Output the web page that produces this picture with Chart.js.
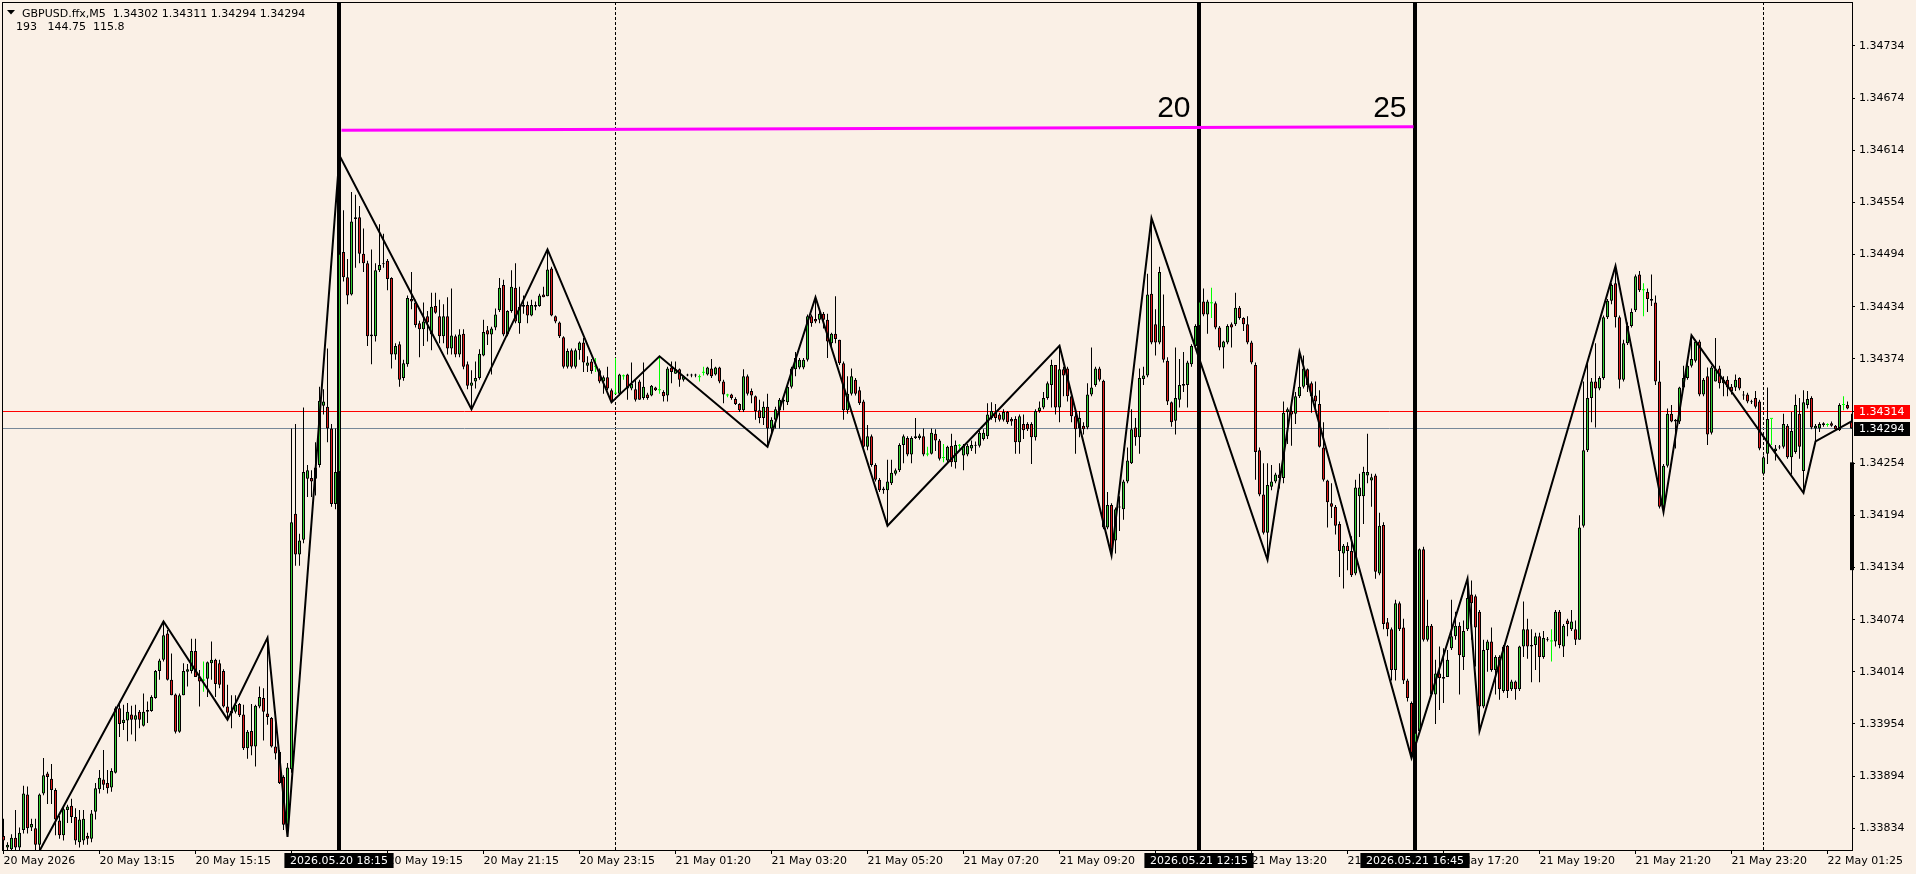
<!DOCTYPE html>
<html>
<head>
<meta charset="utf-8">
<title>GBPUSD.ffx,M5</title>
<script src="https://cdn.jsdelivr.net/npm/chart.js"></script>
<style>
    html, body { margin: 0; padding: 0; background: #faf0e6; }
    canvas { display: block; }
</style>
</head>
<body>
<canvas id="priceChart" width="1916" height="874"></canvas>
<script>
// GBPUSD M5 - velas

const symbolTitle = 'GBPUSD.ffx,M5  1.34302 1.34311 1.34294 1.34294';
const infoLine = '193   144.75  115.8';

const opens = [
    1.33825, 1.33812, 1.33810, 1.33823, 1.33812, 1.33832, 1.33873, 1.33835, 1.33834, 1.33815,
    1.33874, 1.33897, 1.33891, 1.33878, 1.33843, 1.33826, 1.33855, 1.33860, 1.33847, 1.33818,
    1.33820, 1.33825, 1.33822, 1.33853, 1.33879, 1.33890, 1.33886, 1.33881, 1.33898, 1.33972,
    1.33955, 1.33958, 1.33965, 1.33959, 1.33968, 1.33952, 1.33968, 1.33969, 1.33984, 1.34015,
    1.34028, 1.34058, 1.34005, 1.33988, 1.33945, 1.33987, 1.34014, 1.34015, 1.34038, 1.34008,
    1.34004, 1.34006, 1.34024, 1.34028, 1.34024, 1.34015, 1.33974, 1.33966, 1.33968, 1.33977,
    1.33965, 1.33926, 1.33946, 1.33928, 1.33974, 1.33984, 1.33966, 1.33961, 1.33928, 1.33922,
    1.33893, 1.33838, 1.33902, 1.34196, 1.34149, 1.34166, 1.34236, 1.34237, 1.34236, 1.34252,
    1.34320, 1.34319, 1.34294, 1.34207, 1.34244, 1.34497, 1.34468, 1.34448, 1.34535, 1.34537,
    1.34495, 1.34484, 1.34402, 1.34400, 1.34476, 1.34483, 1.34487, 1.34467, 1.34379, 1.34391,
    1.34352, 1.34368, 1.34443, 1.34439, 1.34415, 1.34408, 1.34423, 1.34402, 1.34435, 1.34423,
    1.34400, 1.34423, 1.34386, 1.34400, 1.34379, 1.34403, 1.34368, 1.34343, 1.34348, 1.34352,
    1.34378, 1.34407, 1.34402, 1.34410, 1.34430, 1.34459, 1.34402, 1.34429, 1.34456, 1.34415,
    1.34434, 1.34436, 1.34424, 1.34436, 1.34435, 1.34448, 1.34446, 1.34478, 1.34423, 1.34416,
    1.34399, 1.34365, 1.34384, 1.34365, 1.34384, 1.34393, 1.34366, 1.34371, 1.34365, 1.34361,
    1.34348, 1.34353, 1.34338, 1.34334, 1.34334, 1.34354, 1.34356, 1.34340, 1.34339, 1.34348,
    1.34329, 1.34333, 1.34332, 1.34341, 1.34338, 1.34336, 1.34332, 1.34364, 1.34357, 1.34362,
    1.34350, 1.34355, 1.34355, 1.34355, 1.34353, 1.34358, 1.34356, 1.34363, 1.34356, 1.34364,
    1.34348, 1.34332, 1.34333, 1.34328, 1.34322, 1.34315, 1.34354, 1.34337, 1.34331, 1.34315,
    1.34306, 1.34319, 1.34294, 1.34304, 1.34315, 1.34327, 1.34324, 1.34342, 1.34362, 1.34364,
    1.34364, 1.34373, 1.34423, 1.34420, 1.34419, 1.34426, 1.34419, 1.34392, 1.34403, 1.34396,
    1.34369, 1.34315, 1.34334, 1.34350, 1.34338, 1.34325, 1.34273, 1.34285, 1.34252, 1.34235,
    1.34225, 1.34223, 1.34231, 1.34242, 1.34246, 1.34275, 1.34283, 1.34264, 1.34285, 1.34283,
    1.34285, 1.34264, 1.34265, 1.34288, 1.34280, 1.34260, 1.34257, 1.34274, 1.34255, 1.34274,
    1.34263, 1.34264, 1.34271, 1.34274, 1.34274, 1.34282, 1.34285, 1.34306, 1.34312, 1.34310,
    1.34304, 1.34313, 1.34305, 1.34305, 1.34278, 1.34299, 1.34299, 1.34299, 1.34284, 1.34314,
    1.34318, 1.34329, 1.34344, 1.34367, 1.34318, 1.34362, 1.34363, 1.34331, 1.34308, 1.34294,
    1.34297, 1.34295, 1.34333, 1.34344, 1.34363, 1.34349, 1.34180, 1.34206, 1.34165, 1.34203,
    1.34201, 1.34233, 1.34254, 1.34295, 1.34284, 1.34351, 1.34355, 1.34449, 1.34414, 1.34393,
    1.34412, 1.34372, 1.34324, 1.34303, 1.34327, 1.34343, 1.34344, 1.34368, 1.34389, 1.34412,
    1.34440, 1.34425, 1.34438, 1.34438, 1.34410, 1.34387, 1.34393, 1.34414, 1.34414, 1.34433,
    1.34421, 1.34414, 1.34393, 1.34367, 1.34269, 1.34218, 1.34174, 1.34227, 1.34233, 1.34241,
    1.34237, 1.34313, 1.34314, 1.34311, 1.34331, 1.34342, 1.34362, 1.34346, 1.34332, 1.34322,
    1.34272, 1.34234, 1.34208, 1.34204, 1.34184, 1.34150, 1.34159, 1.34153, 1.34127, 1.34216,
    1.34216, 1.34240, 1.34234, 1.34240, 1.34127, 1.34183, 1.34071, 1.34063, 1.34016, 1.34093,
    1.34065, 1.34004, 1.33978, 1.33932, 1.33946, 1.34155, 1.34051, 1.34067, 1.33988, 1.34012,
    1.34008, 1.34008, 1.34041, 1.34055, 1.34067, 1.34031, 1.34063, 1.34103, 1.34101, 1.34083,
    1.33974, 1.34039, 1.34049, 1.34016, 1.34031, 1.33992, 1.34044, 1.33994, 1.34003, 1.33994,
    1.34043, 1.34063, 1.34045, 1.34045, 1.34055, 1.34031, 1.34052, 1.34049, 1.34049, 1.34083,
    1.34043, 1.34073, 1.34063, 1.34063, 1.34051, 1.34182, 1.34269, 1.34329, 1.34348, 1.34340,
    1.34352, 1.34422, 1.34441, 1.34461, 1.34422, 1.34350, 1.34392, 1.34412, 1.34430, 1.34471,
    1.34453, 1.34451, 1.34443, 1.34439, 1.34348, 1.34204, 1.34251, 1.34311, 1.34302, 1.34302,
    1.34341, 1.34352, 1.34366, 1.34372, 1.34394, 1.34333, 1.34354, 1.34289, 1.34348, 1.34363,
    1.34346, 1.34350, 1.34342, 1.34341, 1.34352, 1.34333, 1.34333, 1.34325, 1.34329, 1.34325,
    1.34242, 1.34265, 1.34305, 1.34268, 1.34273, 1.34273, 1.34297, 1.34261, 1.34267, 1.34311,
    1.34245, 1.34321, 1.34329, 1.34294, 1.34294, 1.34298, 1.34298, 1.34300, 1.34297, 1.34292,
    1.34321, 1.34321, 1.34302
];

const highs = [
    1.33845, 1.33818, 1.33827, 1.33855, 1.33835, 1.33883, 1.33882, 1.33845, 1.33845, 1.33874,
    1.33915, 1.33899, 1.33908, 1.33880, 1.33848, 1.33859, 1.33861, 1.33868, 1.33857, 1.33855,
    1.33855, 1.33829, 1.33855, 1.33886, 1.33901, 1.33924, 1.33901, 1.33903, 1.33974, 1.33980,
    1.33976, 1.33978, 1.33975, 1.33976, 1.33970, 1.33989, 1.33980, 1.33987, 1.34016, 1.34029,
    1.34072, 1.34062, 1.34035, 1.33989, 1.33989, 1.34024, 1.34023, 1.34052, 1.34052, 1.34016,
    1.34026, 1.34026, 1.34049, 1.34029, 1.34028, 1.34017, 1.33999, 1.33987, 1.33987, 1.33978,
    1.33976, 1.33947, 1.33977, 1.33976, 1.33997, 1.33995, 1.34053, 1.33962, 1.33968, 1.33924,
    1.33895, 1.33909, 1.34294, 1.34299, 1.34173, 1.34318, 1.34252, 1.34246, 1.34278, 1.34342,
    1.34339, 1.34386, 1.34299, 1.34294, 1.34608, 1.34545, 1.34489, 1.34566, 1.34563, 1.34550,
    1.34524, 1.34487, 1.34500, 1.34484, 1.34529, 1.34518, 1.34489, 1.34468, 1.34392, 1.34394,
    1.34373, 1.34447, 1.34474, 1.34442, 1.34418, 1.34439, 1.34429, 1.34450, 1.34450, 1.34442,
    1.34437, 1.34445, 1.34455, 1.34402, 1.34408, 1.34408, 1.34371, 1.34361, 1.34371, 1.34385,
    1.34419, 1.34412, 1.34411, 1.34432, 1.34467, 1.34465, 1.34430, 1.34476, 1.34484, 1.34457,
    1.34447, 1.34440, 1.34442, 1.34440, 1.34449, 1.34457, 1.34500, 1.34480, 1.34424, 1.34417,
    1.34400, 1.34386, 1.34386, 1.34386, 1.34394, 1.34398, 1.34377, 1.34374, 1.34375, 1.34363,
    1.34355, 1.34365, 1.34340, 1.34375, 1.34357, 1.34356, 1.34357, 1.34370, 1.34350, 1.34350,
    1.34370, 1.34335, 1.34344, 1.34342, 1.34377, 1.34338, 1.34365, 1.34371, 1.34371, 1.34363,
    1.34355, 1.34357, 1.34357, 1.34357, 1.34356, 1.34365, 1.34365, 1.34374, 1.34365, 1.34365,
    1.34350, 1.34334, 1.34334, 1.34330, 1.34323, 1.34362, 1.34356, 1.34340, 1.34332, 1.34327,
    1.34325, 1.34334, 1.34307, 1.34319, 1.34329, 1.34330, 1.34344, 1.34365, 1.34382, 1.34375,
    1.34375, 1.34425, 1.34425, 1.34445, 1.34430, 1.34428, 1.34426, 1.34404, 1.34446, 1.34396,
    1.34371, 1.34354, 1.34363, 1.34352, 1.34342, 1.34327, 1.34298, 1.34287, 1.34254, 1.34237,
    1.34227, 1.34258, 1.34258, 1.34248, 1.34277, 1.34287, 1.34285, 1.34285, 1.34306, 1.34288,
    1.34294, 1.34273, 1.34294, 1.34293, 1.34282, 1.34276, 1.34274, 1.34288, 1.34280, 1.34276,
    1.34276, 1.34276, 1.34280, 1.34279, 1.34291, 1.34293, 1.34323, 1.34324, 1.34322, 1.34312,
    1.34316, 1.34314, 1.34307, 1.34308, 1.34310, 1.34310, 1.34301, 1.34301, 1.34316, 1.34325,
    1.34336, 1.34348, 1.34373, 1.34367, 1.34389, 1.34365, 1.34365, 1.34333, 1.34316, 1.34314,
    1.34301, 1.34346, 1.34387, 1.34365, 1.34365, 1.34350, 1.34221, 1.34208, 1.34203, 1.34216,
    1.34235, 1.34272, 1.34316, 1.34306, 1.34363, 1.34365, 1.34472, 1.34536, 1.34431, 1.34480,
    1.34448, 1.34376, 1.34325, 1.34387, 1.34374, 1.34382, 1.34372, 1.34391, 1.34414, 1.34450,
    1.34455, 1.34442, 1.34456, 1.34440, 1.34412, 1.34395, 1.34414, 1.34416, 1.34450, 1.34435,
    1.34422, 1.34423, 1.34395, 1.34370, 1.34272, 1.34254, 1.34254, 1.34252, 1.34243, 1.34254,
    1.34325, 1.34318, 1.34320, 1.34336, 1.34382, 1.34378, 1.34363, 1.34348, 1.34348, 1.34338,
    1.34301, 1.34235, 1.34231, 1.34206, 1.34187, 1.34161, 1.34163, 1.34170, 1.34235, 1.34242,
    1.34250, 1.34288, 1.34242, 1.34242, 1.34197, 1.34186, 1.34076, 1.34065, 1.34097, 1.34095,
    1.34075, 1.34006, 1.33980, 1.33947, 1.34156, 1.34158, 1.34097, 1.34069, 1.34028, 1.34043,
    1.34041, 1.34039, 1.34097, 1.34083, 1.34071, 1.34073, 1.34121, 1.34119, 1.34103, 1.34085,
    1.34051, 1.34051, 1.34065, 1.34033, 1.34033, 1.34045, 1.34045, 1.34005, 1.34004, 1.34044,
    1.34095, 1.34075, 1.34063, 1.34059, 1.34059, 1.34061, 1.34054, 1.34063, 1.34085, 1.34085,
    1.34069, 1.34075, 1.34085, 1.34073, 1.34194, 1.34348, 1.34372, 1.34352, 1.34392, 1.34354,
    1.34424, 1.34443, 1.34461, 1.34481, 1.34424, 1.34396, 1.34416, 1.34432, 1.34471, 1.34475,
    1.34461, 1.34455, 1.34471, 1.34447, 1.34372, 1.34253, 1.34317, 1.34321, 1.34305, 1.34342,
    1.34366, 1.34368, 1.34401, 1.34396, 1.34396, 1.34352, 1.34364, 1.34366, 1.34398, 1.34366,
    1.34354, 1.34354, 1.34345, 1.34356, 1.34353, 1.34337, 1.34335, 1.34327, 1.34337, 1.34327,
    1.34263, 1.34341, 1.34305, 1.34275, 1.34275, 1.34311, 1.34299, 1.34313, 1.34333, 1.34329,
    1.34338, 1.34337, 1.34331, 1.34299, 1.34301, 1.34301, 1.34300, 1.34302, 1.34298, 1.34323,
    1.34331, 1.34325, 1.34311
];

const lows = [
    1.33805, 1.33805, 1.33805, 1.33805, 1.33806, 1.33828, 1.33828, 1.33831, 1.33805, 1.33808,
    1.33872, 1.33862, 1.33862, 1.33826, 1.33822, 1.33820, 1.33840, 1.33840, 1.33815, 1.33812,
    1.33815, 1.33815, 1.33818, 1.33844, 1.33874, 1.33878, 1.33874, 1.33876, 1.33897, 1.33939,
    1.33947, 1.33934, 1.33942, 1.33934, 1.33949, 1.33951, 1.33955, 1.33968, 1.33983, 1.34005,
    1.34026, 1.34004, 1.33987, 1.33943, 1.33944, 1.33987, 1.33997, 1.34012, 1.34008, 1.33974,
    1.33991, 1.33985, 1.34005, 1.33985, 1.33995, 1.33973, 1.33959, 1.33949, 1.33966, 1.33962,
    1.33924, 1.33914, 1.33918, 1.33905, 1.33972, 1.33935, 1.33953, 1.33927, 1.33913, 1.33885,
    1.33832, 1.33824, 1.33898, 1.34136, 1.34136, 1.34162, 1.34215, 1.34215, 1.34217, 1.34249,
    1.34310, 1.34278, 1.34204, 1.34201, 1.34236, 1.34463, 1.34437, 1.34447, 1.34479, 1.34484,
    1.34474, 1.34389, 1.34368, 1.34394, 1.34474, 1.34479, 1.34453, 1.34363, 1.34373, 1.34342,
    1.34349, 1.34365, 1.34431, 1.34410, 1.34376, 1.34389, 1.34394, 1.34384, 1.34426, 1.34392,
    1.34392, 1.34379, 1.34379, 1.34376, 1.34376, 1.34362, 1.34339, 1.34316, 1.34340, 1.34350,
    1.34377, 1.34390, 1.34356, 1.34407, 1.34428, 1.34400, 1.34400, 1.34427, 1.34415, 1.34403,
    1.34426, 1.34415, 1.34423, 1.34430, 1.34434, 1.34445, 1.34446, 1.34423, 1.34415, 1.34398,
    1.34363, 1.34363, 1.34363, 1.34363, 1.34373, 1.34359, 1.34359, 1.34357, 1.34359, 1.34346,
    1.34334, 1.34338, 1.34324, 1.34334, 1.34332, 1.34350, 1.34327, 1.34338, 1.34325, 1.34327,
    1.34327, 1.34327, 1.34331, 1.34337, 1.34334, 1.34325, 1.34325, 1.34346, 1.34357, 1.34342,
    1.34348, 1.34354, 1.34353, 1.34353, 1.34348, 1.34355, 1.34355, 1.34352, 1.34355, 1.34346,
    1.34323, 1.34330, 1.34327, 1.34321, 1.34313, 1.34313, 1.34332, 1.34323, 1.34304, 1.34300,
    1.34298, 1.34273, 1.34288, 1.34294, 1.34294, 1.34315, 1.34321, 1.34340, 1.34354, 1.34362,
    1.34362, 1.34371, 1.34411, 1.34415, 1.34415, 1.34409, 1.34375, 1.34388, 1.34392, 1.34367,
    1.34304, 1.34311, 1.34332, 1.34332, 1.34321, 1.34271, 1.34269, 1.34250, 1.34233, 1.34221,
    1.34219, 1.34182, 1.34229, 1.34240, 1.34244, 1.34254, 1.34262, 1.34254, 1.34282, 1.34281,
    1.34262, 1.34262, 1.34264, 1.34268, 1.34257, 1.34255, 1.34255, 1.34250, 1.34248, 1.34270,
    1.34246, 1.34262, 1.34268, 1.34265, 1.34272, 1.34280, 1.34282, 1.34304, 1.34301, 1.34302,
    1.34302, 1.34299, 1.34297, 1.34265, 1.34265, 1.34282, 1.34291, 1.34253, 1.34280, 1.34312,
    1.34316, 1.34327, 1.34318, 1.34310, 1.34301, 1.34331, 1.34325, 1.34301, 1.34265, 1.34284,
    1.34287, 1.34293, 1.34331, 1.34342, 1.34348, 1.34178, 1.34178, 1.34148, 1.34150, 1.34176,
    1.34189, 1.34231, 1.34253, 1.34274, 1.34265, 1.34344, 1.34353, 1.34391, 1.34378, 1.34391,
    1.34370, 1.34321, 1.34296, 1.34287, 1.34318, 1.34336, 1.34318, 1.34365, 1.34387, 1.34410,
    1.34423, 1.34403, 1.34421, 1.34408, 1.34384, 1.34363, 1.34391, 1.34387, 1.34412, 1.34419,
    1.34406, 1.34391, 1.34368, 1.34235, 1.34216, 1.34172, 1.34143, 1.34223, 1.34231, 1.34225,
    1.34231, 1.34276, 1.34274, 1.34299, 1.34329, 1.34340, 1.34336, 1.34312, 1.34316, 1.34272,
    1.34233, 1.34180, 1.34191, 1.34172, 1.34123, 1.34110, 1.34131, 1.34123, 1.34125, 1.34169,
    1.34184, 1.34231, 1.34204, 1.34121, 1.34125, 1.34063, 1.34055, 1.34004, 1.34004, 1.34061,
    1.34000, 1.33980, 1.33915, 1.33917, 1.33944, 1.34049, 1.34049, 1.33986, 1.33954, 1.33970,
    1.33978, 1.34008, 1.34039, 1.34051, 1.33988, 1.34016, 1.34061, 1.34051, 1.34020, 1.33946,
    1.33972, 1.34014, 1.34014, 1.33988, 1.33982, 1.33990, 1.33984, 1.33992, 1.33982, 1.33992,
    1.34031, 1.34029, 1.34002, 1.34016, 1.34002, 1.34029, 1.34049, 1.34026, 1.34043, 1.34041,
    1.34031, 1.34055, 1.34061, 1.34045, 1.34051, 1.34180, 1.34267, 1.34301, 1.34295, 1.34338,
    1.34350, 1.34420, 1.34437, 1.34410, 1.34340, 1.34348, 1.34390, 1.34410, 1.34428, 1.34451,
    1.34423, 1.34428, 1.34435, 1.34344, 1.34202, 1.34198, 1.34249, 1.34301, 1.34271, 1.34299,
    1.34339, 1.34350, 1.34364, 1.34370, 1.34331, 1.34331, 1.34275, 1.34287, 1.34348, 1.34340,
    1.34331, 1.34331, 1.34333, 1.34337, 1.34338, 1.34327, 1.34323, 1.34322, 1.34317, 1.34269,
    1.34240, 1.34253, 1.34275, 1.34257, 1.34270, 1.34271, 1.34259, 1.34241, 1.34265, 1.34259,
    1.34220, 1.34317, 1.34293, 1.34279, 1.34290, 1.34296, 1.34296, 1.34296, 1.34292, 1.34291,
    1.34315, 1.34316, 1.34294
];

const closes = [
    1.33820, 1.33815, 1.33823, 1.33812, 1.33829, 1.33874, 1.33834, 1.33839, 1.33815, 1.33873,
    1.33895, 1.33893, 1.33878, 1.33844, 1.33826, 1.33856, 1.33859, 1.33847, 1.33820, 1.33844,
    1.33845, 1.33822, 1.33851, 1.33880, 1.33892, 1.33884, 1.33880, 1.33900, 1.33972, 1.33954,
    1.33959, 1.33968, 1.33959, 1.33964, 1.33959, 1.33968, 1.33970, 1.33985, 1.34015, 1.34027,
    1.34056, 1.34005, 1.33987, 1.33945, 1.33987, 1.34015, 1.34017, 1.34038, 1.34008, 1.34003,
    1.34004, 1.34025, 1.34028, 1.34000, 1.33999, 1.33974, 1.33967, 1.33969, 1.33976, 1.33964,
    1.33926, 1.33945, 1.33928, 1.33975, 1.33985, 1.33968, 1.33962, 1.33928, 1.33920, 1.33886,
    1.33838, 1.33904, 1.34186, 1.34149, 1.34165, 1.34244, 1.34246, 1.34233, 1.34249, 1.34326,
    1.34325, 1.34294, 1.34207, 1.34244, 1.34495, 1.34468, 1.34447, 1.34532, 1.34537, 1.34495,
    1.34484, 1.34400, 1.34400, 1.34476, 1.34482, 1.34484, 1.34466, 1.34379, 1.34389, 1.34350,
    1.34369, 1.34444, 1.34440, 1.34413, 1.34408, 1.34417, 1.34416, 1.34434, 1.34427, 1.34400,
    1.34423, 1.34386, 1.34401, 1.34379, 1.34402, 1.34365, 1.34343, 1.34347, 1.34352, 1.34380,
    1.34405, 1.34402, 1.34409, 1.34425, 1.34456, 1.34402, 1.34429, 1.34457, 1.34417, 1.34434,
    1.34436, 1.34424, 1.34436, 1.34434, 1.34447, 1.34445, 1.34477, 1.34424, 1.34417, 1.34400,
    1.34365, 1.34383, 1.34365, 1.34384, 1.34393, 1.34370, 1.34370, 1.34360, 1.34365, 1.34348,
    1.34353, 1.34340, 1.34325, 1.34334, 1.34356, 1.34354, 1.34340, 1.34345, 1.34327, 1.34327,
    1.34342, 1.34329, 1.34343, 1.34338, 1.34338, 1.34331, 1.34363, 1.34359, 1.34362, 1.34350,
    1.34354, 1.34356, 1.34356, 1.34356, 1.34353, 1.34358, 1.34364, 1.34354, 1.34364, 1.34348,
    1.34333, 1.34332, 1.34329, 1.34322, 1.34315, 1.34354, 1.34334, 1.34332, 1.34314, 1.34306,
    1.34319, 1.34294, 1.34304, 1.34316, 1.34327, 1.34325, 1.34342, 1.34363, 1.34375, 1.34373,
    1.34373, 1.34423, 1.34415, 1.34417, 1.34426, 1.34419, 1.34394, 1.34403, 1.34397, 1.34369,
    1.34315, 1.34334, 1.34354, 1.34334, 1.34323, 1.34273, 1.34285, 1.34252, 1.34235, 1.34223,
    1.34223, 1.34233, 1.34243, 1.34246, 1.34275, 1.34285, 1.34264, 1.34283, 1.34283, 1.34286,
    1.34264, 1.34264, 1.34289, 1.34280, 1.34259, 1.34260, 1.34273, 1.34255, 1.34275, 1.34274,
    1.34274, 1.34274, 1.34275, 1.34275, 1.34289, 1.34289, 1.34310, 1.34314, 1.34306, 1.34304,
    1.34313, 1.34301, 1.34302, 1.34278, 1.34308, 1.34292, 1.34293, 1.34284, 1.34314, 1.34318,
    1.34329, 1.34346, 1.34367, 1.34318, 1.34362, 1.34355, 1.34331, 1.34308, 1.34293, 1.34306,
    1.34293, 1.34333, 1.34341, 1.34363, 1.34350, 1.34180, 1.34206, 1.34155, 1.34201, 1.34204,
    1.34233, 1.34257, 1.34293, 1.34284, 1.34352, 1.34355, 1.34448, 1.34393, 1.34393, 1.34474,
    1.34373, 1.34325, 1.34301, 1.34329, 1.34344, 1.34345, 1.34370, 1.34389, 1.34412, 1.34440,
    1.34425, 1.34440, 1.34438, 1.34410, 1.34387, 1.34394, 1.34412, 1.34410, 1.34433, 1.34421,
    1.34414, 1.34393, 1.34370, 1.34267, 1.34218, 1.34174, 1.34229, 1.34233, 1.34241, 1.34237,
    1.34312, 1.34316, 1.34310, 1.34331, 1.34342, 1.34363, 1.34344, 1.34331, 1.34325, 1.34273,
    1.34235, 1.34209, 1.34204, 1.34182, 1.34153, 1.34159, 1.34153, 1.34125, 1.34226, 1.34226,
    1.34244, 1.34244, 1.34238, 1.34129, 1.34182, 1.34069, 1.34063, 1.34016, 1.34093, 1.34063,
    1.34004, 1.33984, 1.33921, 1.33944, 1.34155, 1.34051, 1.34067, 1.33988, 1.34012, 1.34007,
    1.34006, 1.34028, 1.34055, 1.34067, 1.34033, 1.34061, 1.34099, 1.34093, 1.34065, 1.33974,
    1.34039, 1.34049, 1.34016, 1.34031, 1.33994, 1.34043, 1.33992, 1.34003, 1.33994, 1.34043,
    1.34063, 1.34043, 1.34043, 1.34055, 1.34031, 1.34053, 1.34051, 1.34049, 1.34083, 1.34045,
    1.34067, 1.34069, 1.34072, 1.34051, 1.34180, 1.34269, 1.34329, 1.34348, 1.34340, 1.34352,
    1.34422, 1.34441, 1.34459, 1.34422, 1.34350, 1.34392, 1.34412, 1.34428, 1.34469, 1.34453,
    1.34453, 1.34443, 1.34441, 1.34348, 1.34204, 1.34251, 1.34311, 1.34302, 1.34304, 1.34341,
    1.34352, 1.34366, 1.34374, 1.34394, 1.34333, 1.34350, 1.34287, 1.34364, 1.34362, 1.34346,
    1.34350, 1.34341, 1.34337, 1.34350, 1.34340, 1.34332, 1.34325, 1.34324, 1.34319, 1.34271,
    1.34261, 1.34305, 1.34305, 1.34271, 1.34272, 1.34299, 1.34261, 1.34291, 1.34321, 1.34273,
    1.34324, 1.34328, 1.34295, 1.34297, 1.34299, 1.34300, 1.34298, 1.34297, 1.34293, 1.34321,
    1.34321, 1.34317, 1.34294
];

// ZigZag: [barra, precio]
const zigzag = [
    [9, 1.33808], [40, 1.34072], [56, 1.33959], [66, 1.34053], [71, 1.33824], [84, 1.34608],
    [117, 1.34316], [136, 1.34500], [152, 1.34324], [164, 1.34377], [191, 1.34273], [203, 1.34445],
    [221, 1.34182], [264, 1.34389], [277, 1.34148], [287, 1.34536], [316, 1.34143], [324, 1.34382],
    [352, 1.33915], [366, 1.34121], [369, 1.33946], [403, 1.34481], [415, 1.34198], [422, 1.34401],
    [450, 1.34220], [453, 1.34279], [462, 1.34302]
];

// etiquetas del eje de tiempo
const tickBars = [0, 24, 48, 72, 96, 120, 144, 168, 192, 216, 240, 264, 288, 312, 336, 360, 384, 408, 432, 456];
const tickLabels = ['20 May 2026', '20 May 13:15', '20 May 15:15', '20 May 17:15', '20 May 19:15', '20 May 21:15',
    '20 May 23:15', '21 May 01:20', '21 May 03:20', '21 May 05:20', '21 May 07:20', '21 May 09:20',
    '21 May 11:20', '21 May 13:20', '21 May 15:20', '21 May 17:20', '21 May 19:20', '21 May 21:20',
    '21 May 23:20', '22 May 01:25'];
const priceTicks = [1.34734, 1.34674, 1.34614, 1.34554, 1.34494, 1.34434, 1.34374, 1.34314,
    1.34254, 1.34194, 1.34134, 1.34074, 1.34014, 1.33954, 1.33894, 1.33834];

// objetos del grafico
const dayBreaks = [153, 440];
const vLineBars = [84, 299, 353];
const vLineLabels = ['2026.05.20 18:15', '2026.05.21 12:15', '2026.05.21 16:45'];
const levelBars = [84.5, 352.5];
const levelPrices = [1.34637, 1.34641];
const markBars = [299, 353];
const markTexts = ['20', '25'];
const markPrice = 1.34652;
const askPrice = 1.34314;
const bidPrice = 1.34294;
const sideBar = [1.34255, 1.34131];

const bgColor = '#faf0e6';
const bullColor = '#32cd32';
const bearColor = '#e01b1b';
const dojiColor = '#00ff00';

const isDoji = i => opens[i] === closes[i];
const idx = opens.map((_, i) => i);

const decor = {
    id: 'decor',
    beforeDraw(chart) {
        const c = chart.ctx;
        c.save();
        c.fillStyle = bgColor;
        c.fillRect(0, 0, chart.width, chart.height);
        c.restore();
    },
    beforeDatasetsDraw(chart) {
        const c = chart.ctx;
        const a = chart.chartArea;
        const x = chart.scales.x, y = chart.scales.y;
        c.save();
        // separadores de dia
        c.strokeStyle = '#000';
        c.lineWidth = 1;
        c.setLineDash([3, 2]);
        dayBreaks.forEach(b => {
            const px = Math.floor(x.getPixelForValue(b)) + 0.5;
            c.beginPath(); c.moveTo(px, a.top); c.lineTo(px, a.bottom); c.stroke();
        });
        c.setLineDash([]);
        // lineas ask / bid
        [[askPrice, '#ff0000'], [bidPrice, '#778899']].forEach(([p, col]) => {
            const py = Math.round(y.getPixelForValue(p)) + 0.5;
            c.strokeStyle = col;
            c.beginPath(); c.moveTo(a.left, py); c.lineTo(a.right, py); c.stroke();
        });
        // lineas verticales gruesas
        c.fillStyle = '#000';
        vLineBars.forEach(b => {
            const px = Math.floor(x.getPixelForValue(b));
            c.fillRect(px - 2, a.top, 4, a.bottom - a.top);
        });
        c.restore();
    },
    afterDraw(chart) {
        const c = chart.ctx;
        const a = chart.chartArea;
        const x = chart.scales.x, y = chart.scales.y;
        c.save();

        // marco
        c.strokeStyle = '#000';
        c.lineWidth = 1;
        c.strokeRect(a.left + 0.5, a.top + 0.5, a.right - a.left, a.bottom - a.top);

        // barra lateral
        const y1 = y.getPixelForValue(sideBar[0]), y2 = y.getPixelForValue(sideBar[1]);
        c.fillStyle = '#000';
        c.fillRect(a.right - 2, y1, 4, y2 - y1);

        // textos 20 / 25
        c.font = '30px "Liberation Sans", Arial, sans-serif';
        c.textAlign = 'right';
        c.textBaseline = 'alphabetic';
        markTexts.forEach((t, i) => {
            c.fillText(t, x.getPixelForValue(markBars[i]) - 9, y.getPixelForValue(markPrice));
        });

        // cabecera
        c.font = '11px "DejaVu Sans", sans-serif';
        c.textAlign = 'left';
        c.beginPath(); c.moveTo(7, 10); c.lineTo(15, 10); c.lineTo(11, 14.5); c.closePath(); c.fill();
        c.fillText(symbolTitle, 22, 17);
        c.fillText(infoLine, 16, 30);

        // etiquetas negras en el eje de tiempo
        c.textAlign = 'center';
        c.textBaseline = 'middle';
        vLineBars.forEach((b, i) => {
            const px = Math.floor(x.getPixelForValue(b));
            const w = c.measureText(vLineLabels[i]).width + 11;
            c.fillStyle = '#000';
            c.fillRect(px - w / 2, a.bottom + 3, w, 15);
            c.fillStyle = '#fff';
            c.fillText(vLineLabels[i], px, a.bottom + 11);
        });

        // etiquetas de precio ask / bid
        c.textAlign = 'left';
        [[askPrice, '#ff0000'], [bidPrice, '#000000']].forEach(([p, col]) => {
            const py = Math.round(y.getPixelForValue(p));
            c.fillStyle = col;
            c.fillRect(a.right + 2, py - 6, 56, 14);
            c.fillStyle = '#fff';
            c.fillText(p.toFixed(5), a.right + 7, py + 1);
        });
        c.restore();
    }
};

Chart.defaults.font.family = '"DejaVu Sans", sans-serif';
Chart.defaults.font.size = 11;
Chart.defaults.color = '#000';

const ctx = document.getElementById('priceChart').getContext('2d');
new Chart(ctx, {
    type: 'bar',
    data: {
        datasets: [
            {
                type: 'line',
                label: 'ZigZag',
                data: zigzag.map(p => ({ x: p[0], y: p[1] })),
                borderColor: '#000',
                borderWidth: 2,
                pointRadius: 0,
                tension: 0,
                order: 0
            },
            {
                type: 'line',
                label: 'Nivel',
                data: levelBars.map((b, i) => ({ x: b, y: levelPrices[i] })),
                borderColor: '#ff00ff',
                borderWidth: 3,
                pointRadius: 0,
                order: 1
            },
            {
                label: 'Cuerpo',
                data: idx.map(i => ({ x: i, y: [opens[i], closes[i]] })),
                backgroundColor: c => isDoji(c.dataIndex) ? dojiColor : (closes[c.dataIndex] > opens[c.dataIndex] ? bullColor : bearColor),
                borderColor: c => isDoji(c.dataIndex) ? dojiColor : '#000',
                borderWidth: c => isDoji(c.dataIndex) ? 0 : 1,
                borderSkipped: false,
                barThickness: 3,
                minBarLength: 1,
                inflateAmount: 0,
                grouped: false,
                order: 2
            },
            {
                label: 'Mecha',
                data: idx.map(i => ({ x: i, y: [lows[i], highs[i]] })),
                backgroundColor: c => isDoji(c.dataIndex) ? dojiColor : '#000',
                borderWidth: 0,
                barThickness: 1,
                inflateAmount: 0,
                grouped: false,
                order: 3
            }
        ]
    },
    options: {
        responsive: false,
        animation: false,
        devicePixelRatio: 1,
        events: [],
        layout: { padding: { left: 2, top: 2, right: 0, bottom: 0 } },
        plugins: {
            legend: { display: false },
            tooltip: { enabled: false }
        },
        scales: {
            x: {
                type: 'linear',
                offset: false,
                min: -0.375,
                max: 462.125,
                afterBuildTicks: s => { s.ticks = tickBars.map(v => ({ value: v })); },
                afterFit: s => { s.height = 24; s.paddingLeft = 0; s.paddingRight = 0; },
                grid: { offset: false, drawOnChartArea: false, drawTicks: true, tickLength: 4, color: '#000' },
                border: { display: false },
                ticks: {
                    autoSkip: false,
                    maxRotation: 0,
                    align: 'start',
                    padding: 1,
                    color: '#000',
                    callback: (v, i) => tickLabels[i]
                }
            },
            y: {
                type: 'linear',
                position: 'right',
                min: 1.3380902,
                max: 1.3478462,
                afterBuildTicks: s => { s.ticks = priceTicks.map(v => ({ value: v })); },
                afterFit: s => { s.width = 64; s.paddingTop = 0; s.paddingBottom = 0; },
                grid: { drawOnChartArea: false, drawTicks: true, tickLength: 3, color: '#000' },
                border: { display: false },
                ticks: {
                    autoSkip: false,
                    padding: 4,
                    color: '#000',
                    callback: v => v.toFixed(5)
                }
            }
        }
    },
    plugins: [decor]
});
</script>
</body>
</html>
